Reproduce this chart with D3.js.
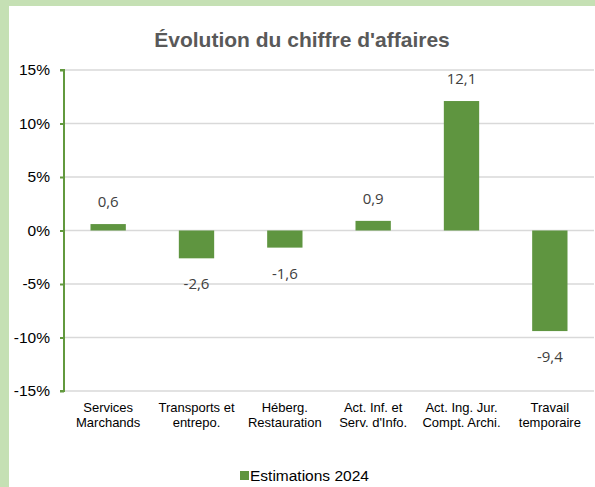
<!DOCTYPE html>
<meta charset="utf-8">
<style>
body { margin: 0; background: #fff; }
svg { display: block; }
.tick-label { font-family: "Liberation Sans", Arial, sans-serif; font-size: 15.5px; fill: #000; }
.cat-label { font-family: "Liberation Sans", Arial, sans-serif; font-size: 13px; fill: #000; }
.val-label { font-family: "Open Sans", sans-serif; font-size: 15px; fill: #404040; }
</style>
<body>
<div id="chart"></div>
<script src="https://d3js.org/d3.v7.min.js"></script>
<script>

// data
var categories = [
  ["Services", "Marchands"],
  ["Transports et", "entrepo."],
  ["Héberg.", "Restauration"],
  ["Act. Inf. et", "Serv. d'Info."],
  ["Act. Ing. Jur.", "Compt. Archi."],
  ["Travail", "temporaire"]
];
var values = [0.6, -2.6, -1.6, 0.9, 12.1, -9.4];
var yTicks = [-15, -10, -5, 0, 5, 10, 15];
var seriesName = "Estimations 2024";
var title = "Évolution du chiffre d'affaires";

var width = 595, height = 487;
var barColor = "#5f9540";
var axisColor = "#62993e";

var svg = d3.select("#chart").append("svg")
    .attr("width", width)
    .attr("height", height);

// light green frame around the white panel
svg.append("rect").attr("width", width).attr("height", height).attr("fill", "#c5e0b4");
svg.append("rect").attr("x", 9).attr("y", 6).attr("width", width - 9).attr("height", height - 6).attr("fill", "#fff");

var x = d3.scaleBand()
    .domain(d3.range(values.length))
    .range([64, 594])
    .paddingInner(0.6)
    .paddingOuter(0.3);

var y = d3.scaleLinear()
    .domain([-15, 15])
    .range([391, 70]);

svg.append("text")
    .attr("x", 302)
    .attr("y", 47)
    .attr("text-anchor", "middle")
    .style("font-family", "'Liberation Sans', Arial, sans-serif")
    .style("font-size", "21px")
    .style("font-weight", "bold")
    .style("fill", "#595959")
    .text(title);

// gridlines
svg.append("g")
  .selectAll("line")
  .data(yTicks)
  .enter().append("line")
    .attr("x1", 64)
    .attr("x2", 594)
    .attr("y1", function(d) { return y(d); })
    .attr("y2", function(d) { return y(d); })
    .attr("stroke", "#d9d9d9")
    .attr("stroke-width", 1.5);

// bars
svg.append("g")
  .selectAll("rect")
  .data(values)
  .enter().append("rect")
    .attr("x", function(d, i) { return x(i); })
    .attr("width", x.bandwidth())
    .attr("y", function(d) { return y(Math.max(0, d)); })
    .attr("height", function(d) { return Math.abs(y(d) - y(0)); })
    .attr("fill", barColor);

// value labels
svg.append("g")
  .selectAll("text")
  .data(values)
  .enter().append("text")
    .attr("class", "val-label")
    .attr("x", function(d, i) { return x(i) + x.bandwidth() / 2; })
    .attr("y", function(d) { return d >= 0 ? y(d) - 17 : y(d) + 31; })
    .attr("text-anchor", "middle")
    .text(function(d) { return String(d).replace(".", ","); });

// y axis
var yAxis = svg.append("g")
    .attr("transform", "translate(64,0)")
    .call(d3.axisLeft(y).tickValues(yTicks).tickSize(4).tickPadding(10)
      .tickFormat(function(d) { return d + "%"; }));
yAxis.select(".domain").attr("stroke", axisColor).attr("stroke-width", 2)
    .attr("d", "M-4," + y(15) + "H0V" + y(-15) + "H-4");
yAxis.selectAll(".tick line").attr("stroke", axisColor).attr("stroke-width", 2);
yAxis.selectAll(".tick text").attr("class", "tick-label").attr("fill", null);

// category labels
var cat = svg.append("g")
  .selectAll("text")
  .data(categories)
  .enter().append("text")
    .attr("class", "cat-label")
    .attr("text-anchor", "middle")
    .attr("transform", function(d, i) { return "translate(" + (x(i) + x.bandwidth() / 2) + ",412)"; });
cat.selectAll("tspan")
  .data(function(d) { return d; })
  .enter().append("tspan")
    .attr("x", 0)
    .attr("dy", function(d, j) { return j === 0 ? 0 : 15; })
    .text(function(d) { return d; });

// legend
svg.append("rect")
    .attr("x", 240).attr("y", 471)
    .attr("width", 9).attr("height", 9)
    .attr("fill", barColor);
svg.append("text")
    .attr("x", 250)
    .attr("y", 481)
    .style("font-family", "'Liberation Sans', Arial, sans-serif")
    .style("font-size", "15.5px")
    .style("fill", "#000")
    .text(seriesName);

</script>
</body>
